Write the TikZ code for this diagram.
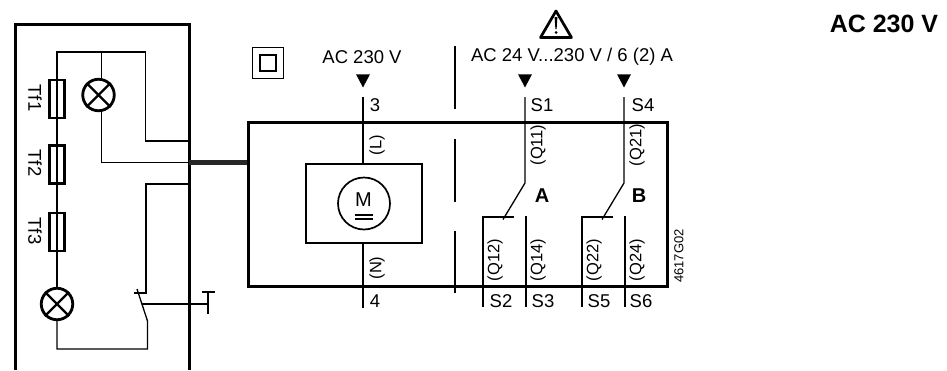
\documentclass[tikz,border=0pt]{standalone}
\usepackage{fontspec}
\setmainfont{Liberation Sans}
\usetikzlibrary{shapes.geometric}
\tikzset{
  wire/.style={draw=black,line width=1.3pt},
  heavy/.style={draw=black,line width=3pt},
  fuse/.style={draw=black,line width=2.8pt,minimum width=15.5pt,minimum height=38pt,inner sep=0pt},
  lamp/.style={circle,draw=black,line width=2.8pt,minimum size=31.5pt,inner sep=0pt},
  lbl/.style={inner sep=0pt,font=\fontsize{18.5}{20}\selectfont},
  qlbl/.style={inner sep=0pt,rotate=90,font=\fontsize{16.5}{18}\selectfont},
  tflbl/.style={inner sep=0pt,rotate=-90,font=\fontsize{18.5}{20}\selectfont},
  bold/.style={inner sep=0pt,font=\fontsize{20}{22}\selectfont\bfseries},
  tip/.style={fill=black,draw=none,isosceles triangle,shape border rotate=-90,isosceles triangle apex angle=56,minimum height=13pt,minimum width=14pt,inner sep=0pt}
}
\begin{document}
\begin{tikzpicture}[x=1pt,y=-1pt]
\useasboundingbox (0,0) rectangle (947,370);
% left panel
\coordinate (pTL) at (15.5,24); \coordinate (pTR) at (189,24);
\coordinate (pBL) at (15.5,370); \coordinate (pBR) at (189,370);
\draw[heavy] (pBL) -- (pTL) -- (pTR) -- (pBR);
\node[fuse] (f1) at (57,99) {};
\node[fuse] (f2) at (57,164.5) {};
\node[fuse] (f3) at (57,232) {};
\node[lamp] (l1) at (98.5,95) {};
\node[lamp] (l2) at (57,304) {};
\draw[line width=2.2pt] (l1.north west) -- (l1.south east) (l1.north east) -- (l1.south west);
\draw[line width=2.2pt] (l2.north west) -- (l2.south east) (l2.north east) -- (l2.south west);
\node[tflbl] (t1) at (35,98) {Tf1};
\node[tflbl] (t2) at (35,163) {Tf2};
\node[tflbl] (t3) at (35,231) {Tf3};
\coordinate (topA) at (57,52); \coordinate (topB) at (101.5,52); \coordinate (topC) at (145.5,52);
\draw[wire] (l2.north) -- (topA) -- (topC) |- (189,141);
\draw[wire] (topB) -- (101.5,79);
\coordinate (j1) at (189,162.5);
\coordinate (j3) at (189,184);
\draw[wire] (101.5,111) |- (j1);
\draw[wire] (j3) -| (146,293) -- (134,293);
\coordinate (swA) at (137,289); \coordinate (swB) at (147.5,321);
\draw[wire] (swA) -- (swB) -- (147.5,349) -| (l2.south);
\coordinate (pbA) at (142,304); \coordinate (pbB) at (208,304);
\draw[wire] (pbA) -- (pbB);
\draw[wire] (208,292) -- (208,314) (202,292) -- (215,292);
% main box
\node[draw=black,line width=3pt,minimum width=419pt,minimum height=164pt,inner sep=0pt] (main) at (457.5,204) {};
\draw[draw=black!85,line width=5.5pt] (j1) -- (main.west |- j1);
% class II symbol
\node[draw=black,line width=1.2pt,minimum size=31pt,inner sep=0pt] (cls) at (268,63) {};
\node[draw=black,line width=1.9pt,minimum size=15.5pt,inner sep=0pt] (clsi) at (268,63) {};
% voltage
\node[lbl] (v1) at (362,57) {AC 230 V};
\node[lbl] (v2) at (572,57) {AC 24 V...230 V / 6 (2) A};
\node[inner sep=0pt,font=\fontsize{25}{28}\selectfont\bfseries] (v3) at (884,23.5) {AC 230 V};
\node[tip] (a1) at (363,78.5) {};
\node[tip] (a2) at (525,78.5) {};
\node[tip] (a3) at (624,78.5) {};
% warning
\draw[black,line width=2.7pt,line join=round] (556,11) -- (571.5,37.5) -- (540.5,37.5) -- cycle;
\fill[black] (554.6,17) -- (557.4,17) -- (556.6,29) -- (555.4,29) -- cycle;
\fill[black] (556,32.5) circle (1.5pt);
% motor
\node[draw=black,line width=1.9pt,minimum width=116pt,minimum height=79pt,inner sep=0pt] (mot) at (364,203.5) {};
\node[circle,draw=black,line width=1.7pt,minimum size=52pt,inner sep=0pt] (mc) at (364,203.5) {};
\node[inner sep=0pt,font=\fontsize{20}{22}\selectfont] (mm) at (363.5,200) {M};
\draw[black,line width=1.2pt] (355,215) -- (373,215) (355,219) -- (373,219);
\coordinate (t3c) at (363,97); \coordinate (t4c) at (363,308);
\draw[wire] (t3c) -- (mot.north -| t3c);
\draw[wire] (mot.south -| t4c) -- (t4c);
\node[lbl] (n3) at (375,105) {3};
\node[lbl] (n4) at (375,301) {4};
\node[qlbl] (lL) at (377,145) {(L)};
\node[qlbl] (lN) at (377,268) {(N)};
% separator
\coordinate (s1a) at (455,46); \coordinate (s1b) at (455,109);
\coordinate (s2a) at (455,139); \coordinate (s2b) at (455,202);
\coordinate (s3a) at (455,231); \coordinate (s3b) at (455,293);
\draw[black,line width=1.8pt] (s1a) -- (s1b) (s2a) -- (s2b) (s3a) -- (s3b);
% contacts
\coordinate (c1) at (525,97); \coordinate (c1k) at (525,183); \coordinate (c1e) at (503,219.5);
\coordinate (c2) at (624,97); \coordinate (c2k) at (624,183); \coordinate (c2e) at (602,219.5);
\draw[wire] (c1) -- (c1k) -- (c1e);
\draw[wire] (c2) -- (c2k) -- (c2e);
\draw[wire] (514,217) -- (483,217) -- (483,307);
\draw[wire] (613,217) -- (582,217) -- (582,307);
\draw[wire] (526,216) -- (526,307);
\draw[wire] (625,216) -- (625,307);
\node[lbl] (S1) at (542,105) {S1};
\node[lbl] (S4) at (643,105) {S4};
\node[lbl] (S2) at (501,301) {S2};
\node[lbl] (S3) at (543,301) {S3};
\node[lbl] (S5) at (599,301) {S5};
\node[lbl] (S6) at (641,301) {S6};
\node[qlbl] (q11) at (538,145) {(Q11)};
\node[qlbl] (q21) at (637,145) {(Q21)};
\node[qlbl] (q12) at (495,260) {(Q12)};
\node[qlbl] (q14) at (538,260) {(Q14)};
\node[qlbl] (q22) at (594,260) {(Q22)};
\node[qlbl] (q24) at (637,260) {(Q24)};
\node[bold] (A) at (542,196) {A};
\node[bold] (B) at (639,196) {B};
\node[inner sep=0pt,rotate=90,font=\fontsize{13}{15}\selectfont] (code) at (679,256) {4617G02};
\end{tikzpicture}
\end{document}
